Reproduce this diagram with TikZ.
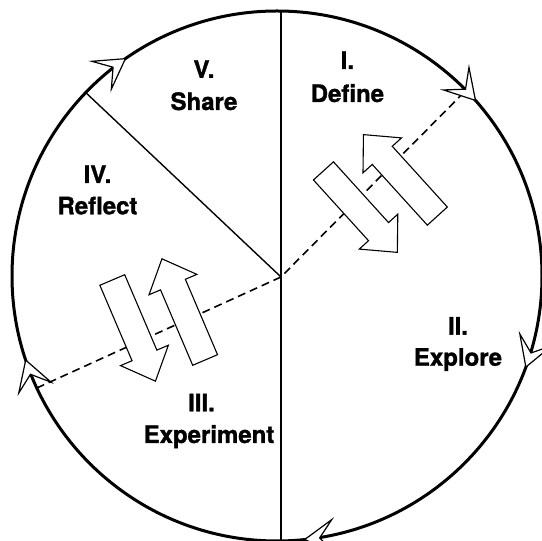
\documentclass[tikz,border=0pt]{standalone}
\usepackage{fontspec}
\setmainfont{TeX Gyre Heros}[BoldFeatures={FakeBold=1.3}]
\usetikzlibrary{calc}
\begin{document}
\begin{tikzpicture}[x=1pt,y=1pt,
  rim/.style={line width=3pt},
  divider/.style={line width=1.4pt},
  axisline/.style={line width=1.1pt},
  dashpath/.style={line width=1.6pt, dash pattern=on 8pt off 5pt},
  lbl/.style={font=\fontsize{24}{31}\selectfont\bfseries, anchor=base, inner sep=0pt},
  cyc/.pic={\draw[line width=1.2pt, fill=white, line join=miter] (0,0) -- (-29,17) -- (-15,0) -- (-29,-17) -- cycle;},
  blockpair/.pic={
    \draw[line width=1.1pt, fill=white, line join=miter] (27,55) -- (53,27) -- (40.5,27) -- (40.5,-55) -- (13.5,-55) -- (13.5,27) -- (1,27) -- cycle;
    \draw[line width=1.1pt, fill=white, line join=miter] (-27,-55) -- (-53,-27) -- (-40.5,-27) -- (-40.5,55) -- (-13.5,55) -- (-13.5,-27) -- (-1,-27) -- cycle;
  }]
\useasboundingbox[fill=white] (0,0) rectangle (542,541);
\coordinate (C) at (277,265);
\coordinate (J) at (281,264);
\coordinate (Top) at (281,530);
\coordinate (Bot) at (281,-2);
\coordinate (D) at ($(C)+(136.2:265pt)$);
\coordinate (E1) at ($(C)+(44.5:265pt)$);
\coordinate (E2) at ($(C)+(205:265pt)$);
% dashed path through the centre
\draw[dashpath] (E2) -- (J) -- (E1);
% paired block arrows
\pic[rotate=42.2] (pairA) at (380.4,347.5) {blockpair};
\pic[rotate=23.1] (pairB) at (158.7,221) {blockpair};
% dividers
\draw[divider] (J) -- (D);
\draw[axisline] (Top) -- (Bot);
% the cycle
\draw[rim] (C) circle (265pt);
\foreach \a [evaluate=\a as \r using \a-90] in {124.9,41.5,-20.1,-84,198.5}
  \pic[rotate=\r] at ($(C)+(\a:265pt)$) {cyc};
% labels
\node[lbl] (n5) at (204,463.2) {V.};
\node[lbl] (w5) at (204,431) {Share};
\node[lbl] (n1) at (347.4,472) {I.};
\node[lbl] (w1) at (347.4,439) {Define};
\node[lbl] (n4) at (97.5,358) {IV.};
\node[lbl] (w4) at (97.5,326.7) {Reflect};
\node[lbl] (n2) at (458,206.4) {II.};
\node[lbl] (w2) at (458,175.3) {Explore};
\node[lbl] (n3) at (201.5,129.7) {III.};
\node[lbl] (w3) at (209,98) {Experiment};
\end{tikzpicture}
\end{document}
